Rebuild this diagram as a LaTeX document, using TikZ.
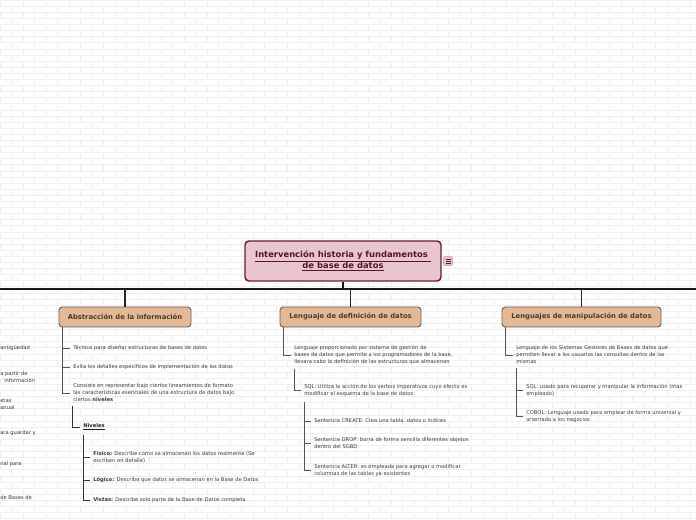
\documentclass[tikz,border=0pt]{standalone}
\usepackage{fontspec}
\setmainfont{DejaVu Sans}
\usetikzlibrary{calc}
\definecolor{bgline}{HTML}{EEEEEE}
\definecolor{mainfill}{HTML}{E8C6CB}
\definecolor{maindraw}{HTML}{6B1D2F}
\definecolor{maintext}{HTML}{5C1427}
\definecolor{topfill}{HTML}{E3B995}
\definecolor{topdraw}{HTML}{6F5D4E}
\definecolor{toptext}{HTML}{4B3B2B}
\definecolor{itemtext}{HTML}{3A3A3A}
\definecolor{brline}{HTML}{555555}
\begin{document}
\begin{tikzpicture}[x=0.75pt,y=-0.75pt,
  maintopic/.style={draw=maindraw,line width=1.1pt,fill=mainfill,rounded corners=3pt,
    minimum width=196*0.75pt,minimum height=40*0.75pt,align=center,text=maintext,
    font=\fontsize{6.3}{8.25}\selectfont\bfseries,inner sep=0pt},
  topbox/.style={draw=topdraw,line width=0.7pt,fill=topfill,rounded corners=2.5pt,
    minimum height=20*0.75pt,text=toptext,font=\fontsize{5.1}{6}\selectfont\bfseries,inner sep=0pt},
  item/.style={anchor=west,align=left,inner sep=0pt,text=itemtext,
    font=\fontsize{3.9}{5.25}\selectfont},
  mainline/.style={line width=1.5pt,draw=black!90},
  br/.style={line width=0.55pt,draw=brline},
  sub/.style={line width=0.75pt,draw=black!80}
]
\useasboundingbox (0,0) rectangle (696,520);
\fill[white] (0,0) rectangle (696,520);
% faint brick background
\foreach \r in {0,...,85}{
  \draw[bgline,line width=0.4pt] (0,\r*6.1) -- (696,\r*6.1);
  \pgfmathsetmacro{\off}{mod(\r,2)*11.5}
  \foreach \c in {0,...,30}{
    \draw[bgline,line width=0.4pt] (\c*23+\off,\r*6.1) -- ++(0,6.1);
  }
}
% main topic
\node[maintopic] (m) at (343,261) {\underline{Intervención historia y fundamentos }\\\underline{de base de datos}};
\node[draw=mainfill!80!maindraw,fill=mainfill,rounded corners=1pt,minimum width=9*0.75pt,minimum height=9*0.75pt,inner sep=0pt] (icon) at (448,261) {};
\foreach \dy in {-2,0,2}{\draw[maintext,line width=0.5pt] ($(icon.center)+(-2.5,\dy)$) -- ($(icon.center)+(2.5,\dy)$);}
% main horizontal line
\coordinate (hlL) at (0,289);
\coordinate (hlR) at (696,289);
\draw[mainline] (hlL) -- (hlR);
\draw[mainline] (m.south) -- (m.south |- hlL);
% top boxes
\node[topbox,minimum width=132*0.75pt] (b1) at (125,317) {Abstracción de la información};
\node[topbox,minimum width=141*0.75pt] (b2) at (350.5,317) {Lenguaje de definición de datos};
\node[topbox,minimum width=159*0.75pt] (b3) at (581.5,317) {Lenguajes de manipulación de datos};
\foreach \b in {b1,b2,b3}{\draw[line width=0.8pt,black!85] (\b.north) -- (\b.north |- hlL);}
% left cut-off fragments
\node[item] (l1) at (0,348) {antigüedad};
\node[item] (l2) at (0,377.5) {a partir de\\\hspace*{3pt}información};
\node[item] (l3) at (0,404) {etas\\anual};
\node[item] (l4) at (0,433) {ara guardar y};
\node[item] (l5) at (0,464) {nal para};
\node[item] (l6) at (0,498) {de Bases de};
% branch 1
\node[item] (t11) at (73,348) {Técnica para diseñar estructuras de bases de datos};
\node[item] (t12) at (73,367) {Evita los detalles específicos de implementación de los datos};
\node[item] (t13) at (73,393) {Consiste en representar bajo ciertos lineamientos de formato\\las características esenciales de una estructura de datos bajo\\ciertos \textbf{niveles}};
\foreach \t in {t11,t12,t13}{\draw[br] ($(b1.south west)+(4,0)$) |- ($(\t.west)+(-3,0)$);}
\node[item,font=\fontsize{3.9}{5.25}\selectfont\bfseries,text=black!85] (niv) at (83,427) {\underline{Niveles}};
\draw[sub] ($(t13.south west)+(-1,4)$) |- ($(niv.west)+(-3,0)$);
\node[item] (fis) at (93,457) {\textbf{Físico:} Describe como se almacenan los datos realmente (Se\\escriben en detalle)};
\node[item] (log) at (93,480) {\textbf{Lógico:} Describe que datos se almacenan en la Base de Datos};
\node[item] (vis) at (93,500) {\textbf{Vistas:} Describe solo parte de la Base de Datos completa};
\foreach \t in {fis,log,vis}{\draw[sub] ($(niv.south west)+(0,4)$) |- ($(\t.west)+(-3,0)$);}
% branch 2
\node[item] (t21) at (294,355) {Lenguaje proporcionado por sistema de gestión de\\bases de datos que permite a los programadores de la base,\\llevara cabo la definición de las estructuras que almacenan};
\draw[br] ($(b2.south west)+(4,0)$) |- ($(t21.west)+(-3,0)$);
\node[item] (sql2) at (304,390.5) {SQL: Utiliza la acción de los verbos imperativos cuyo efecto es\\modificar el esquema de la base de datos};
\draw[br] ($(t21.south west)+(0,4)$) |- ($(sql2.west)+(-3,0)$);
\node[item] (cre) at (314,421) {Sentencia CREATE: Crea una tabla, datos o índices};
\node[item] (drp) at (314,443.5) {Sentencia DROP: borra de forma sencilla diferentes objetos\\dentro del SGBD};
\node[item] (alt) at (314,470.5) {Sentencia ALTER: es empleada para agregar o modificar\\columnas de las tablas ya existentes};
\foreach \t in {cre,drp,alt}{\draw[br] ($(sql2.south west)+(0,5)$) |- ($(\t.west)+(-3,0)$);}
% branch 3
\node[item] (t31) at (516,355) {Lenguaje de los Sistemas Gestores de Bases de datos que\\permiten llevar a los usuarios las consultas dentro de las\\mismas};
\draw[br] ($(b3.south west)+(4,0)$) |- ($(t31.west)+(-3,0)$);
\node[item] (sql3) at (526,390.5) {SQL: usado para recuperar y manipular la información (mas\\empleado)};
\node[item] (cob) at (526,416.5) {COBOL: Lenguaje usado para emplear de forma universal y\\orientado a los negocios};
\foreach \t in {sql3,cob}{\draw[br] ($(t31.south west)+(0,4)$) |- ($(\t.west)+(-3,0)$);}
\end{tikzpicture}
\end{document}
